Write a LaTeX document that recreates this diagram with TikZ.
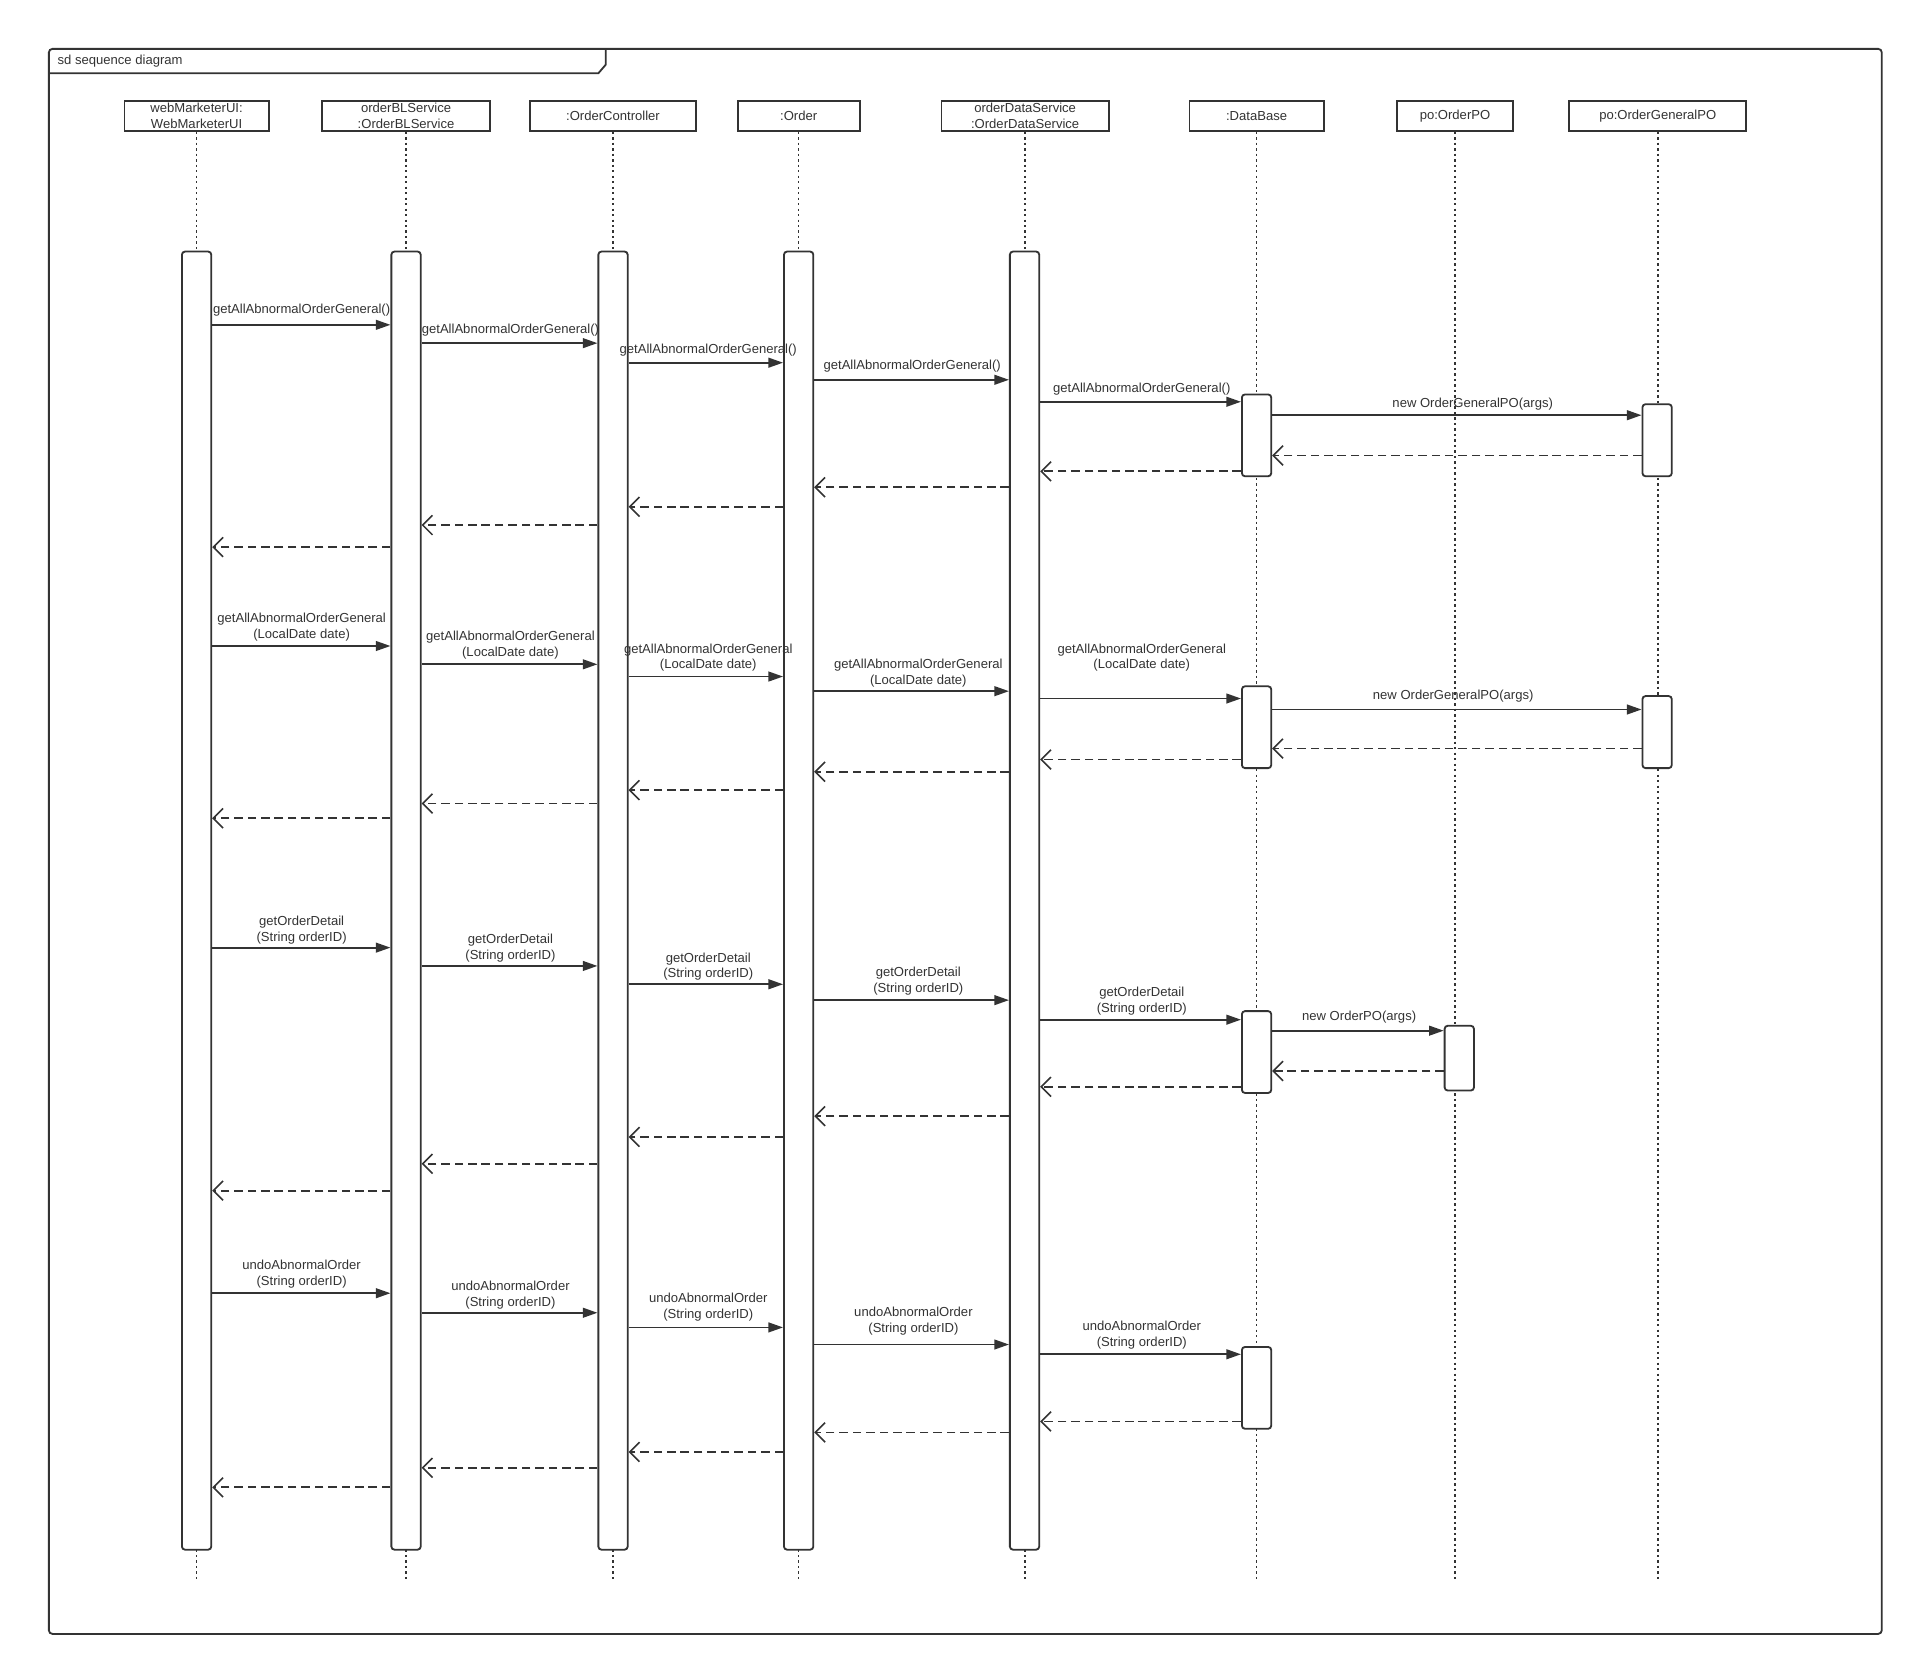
\documentclass[tikz,border=0pt]{standalone}
\usepackage{fontspec}
\setmainfont{Liberation Sans}
\usetikzlibrary{arrows.meta}
\definecolor{ink}{HTML}{333333}
\newcommand\callm[7]{\draw[call] (#1.east |- 0,#3) -- (#2.west |- 0,#3); \node[lbl] (#7) at (#4,#5) {#6};}
\newcommand\retm[3]{\draw[ret] (#1.west |- 0,#3) -- (#2.east |- 0,#3);}
\begin{document}
\begin{tikzpicture}[x=1pt,y=-1pt,
  every node/.style={font=\fontsize{10.7}{13}\selectfont, text=ink},
  head/.style={draw=ink, line width=1.5pt, rectangle, minimum height=24pt, inner sep=0pt, align=center, fill=white},
  life/.style={draw=ink, line width=1.3pt, dash pattern=on 2pt off 2.5pt},
  act/.style={draw=ink, line width=1.5pt, rectangle, rounded corners=2.5pt, minimum width=24pt, inner sep=0pt, fill=white},
  call/.style={draw=ink, line width=1.5pt, -{Triangle[length=12pt,width=8pt]}},
  ret/.style={draw=ink, line width=1.5pt, dash pattern=on 7pt off 4pt, -{Straight Barb[length=8pt,width=16pt,line width=1.3pt]}},
  lbl/.style={inner sep=0pt, align=center},
]
\useasboundingbox (0,0) rectangle (1560,1358);
% frame
\draw[ink, line width=1.5pt, rounded corners=3pt] (40,40) rectangle (1541,1338);
\draw[ink, line width=1.5pt] (40,60) -- (490,60) -- (496,53) -- (496,40);
\node[anchor=west, inner sep=0pt] (title) at (47,50) {sd sequence diagram};
% heads
\node[head, minimum width=118pt] (H1) at (161,95) {webMarketerUI:\\WebMarketerUI};
\node[head, minimum width=137pt] (H2) at (332.5,95) {orderBLService\\:OrderBLService};
\node[head, minimum width=136pt] (H3) at (502,95) {:OrderController};
\node[head, minimum width=100pt] (H4) at (654,95) {:Order};
\node[head, minimum width=137pt] (H5) at (839.5,95) {orderDataService\\:OrderDataService};
\node[head, minimum width=110pt] (H6) at (1029,95) {:DataBase};
\node[head, minimum width=95pt] (H7) at (1191.5,95) {po:OrderPO};
\node[head, minimum width=145pt] (H8) at (1357.5,95) {po:OrderGeneralPO};
% lifelines
\foreach \h in {H1,H2,H3,H4,H5,H6,H7,H8}
  \draw[life] (\h.south) -- (\h.south |- 0,1293);
% activations
\node[act, minimum height=1063pt] (A1) at (161,737.5) {};
\node[act, minimum height=1063pt] (A2) at (332.5,737.5) {};
\node[act, minimum height=1063pt] (A3) at (502,737.5) {};
\node[act, minimum height=1063pt] (A4) at (654,737.5) {};
\node[act, minimum height=1063pt] (A5) at (839,737.5) {};
\node[act, minimum height=67pt] (D1) at (1029,356.5) {};
\node[act, minimum height=67pt] (D2) at (1029,595.5) {};
\node[act, minimum height=67pt] (D3) at (1029,861.5) {};
\node[act, minimum height=67pt] (D4) at (1029,1136.5) {};
\node[act, minimum height=59pt] (G1) at (1357,360.5) {};
\node[act, minimum height=59pt] (G2) at (1357,599.5) {};
\node[act, minimum height=53pt] (P1) at (1195,866.5) {};
% group 1
\callm{A1}{A2}{266}{247}{254}{getAllAbnormalOrderGeneral()}{a1}
\callm{A2}{A3}{281}{418}{270}{getAllAbnormalOrderGeneral()}{a2}
\callm{A3}{A4}{297}{580}{287}{getAllAbnormalOrderGeneral()}{a3}
\callm{A4}{A5}{311}{747}{300}{getAllAbnormalOrderGeneral()}{a4}
\callm{A5}{D1}{329}{935}{319}{getAllAbnormalOrderGeneral()}{a5}
\callm{D1}{G1}{340}{1206}{331}{new OrderGeneralPO(args)}{a6}
\retm{G1}{D1}{373}
\retm{D1}{A5}{386}
\retm{A5}{A4}{399}
\retm{A4}{A3}{415}
\retm{A3}{A2}{430}
\retm{A2}{A1}{448}
% group 2
\callm{A1}{A2}{529}{247}{513.5}{getAllAbnormalOrderGeneral\\(LocalDate date)}{b1}
\callm{A2}{A3}{544}{418}{528.5}{getAllAbnormalOrderGeneral\\(LocalDate date)}{b2}
\callm{A3}{A4}{554}{580}{538.5}{getAllAbnormalOrderGeneral\\(LocalDate date)}{b3}
\callm{A4}{A5}{566}{752}{551.5}{getAllAbnormalOrderGeneral\\(LocalDate date)}{b4}
\callm{A5}{D2}{572}{935}{538.5}{getAllAbnormalOrderGeneral\\(LocalDate date)}{b5}
\callm{D2}{G2}{581}{1190}{570}{new OrderGeneralPO(args)}{b6}
\retm{G2}{D2}{613}
\retm{D2}{A5}{622}
\retm{A5}{A4}{632}
\retm{A4}{A3}{647}
\retm{A3}{A2}{658}
\retm{A2}{A1}{670}
% group 3
\callm{A1}{A2}{776}{247}{761.5}{getOrderDetail\\(String orderID)}{c1}
\callm{A2}{A3}{791}{418}{776.5}{getOrderDetail\\(String orderID)}{c2}
\callm{A3}{A4}{806}{580}{791.5}{getOrderDetail\\(String orderID)}{c3}
\callm{A4}{A5}{819}{752}{803.5}{getOrderDetail\\(String orderID)}{c4}
\callm{A5}{D3}{835}{935}{819.5}{getOrderDetail\\(String orderID)}{c5}
\callm{D3}{P1}{844}{1113}{833}{new OrderPO(args)}{c6}
\retm{P1}{D3}{877}
\retm{D3}{A5}{890}
\retm{A5}{A4}{914}
\retm{A4}{A3}{931}
\retm{A3}{A2}{953}
\retm{A2}{A1}{975}
% group 4
\callm{A1}{A2}{1059}{247}{1043.5}{undoAbnormalOrder\\(String orderID)}{d1}
\callm{A2}{A3}{1075}{418}{1060.5}{undoAbnormalOrder\\(String orderID)}{d2}
\callm{A3}{A4}{1087}{580}{1070.5}{undoAbnormalOrder\\(String orderID)}{d3}
\callm{A4}{A5}{1101}{748}{1081.5}{undoAbnormalOrder\\(String orderID)}{d4}
\callm{A5}{D4}{1109}{935}{1093.5}{undoAbnormalOrder\\(String orderID)}{d5}
\retm{D4}{A5}{1164}
\retm{A5}{A4}{1173}
\retm{A4}{A3}{1189}
\retm{A3}{A2}{1202}
\retm{A2}{A1}{1218}
\end{tikzpicture}
\end{document}
